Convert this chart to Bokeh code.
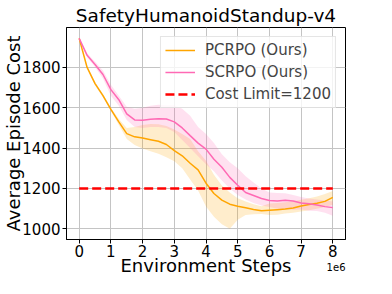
from bokeh.plotting import figure
from bokeh.models import Range1d, Label, Legend, LegendItem, FixedTicker
from bokeh.embed import file_html
from bokeh.resources import INLINE

# ---- data ----
steps = [0.0, 0.25, 0.5, 0.75, 1.0, 1.25, 1.5, 1.75, 2.0, 2.25, 2.5, 2.75,
         3.0, 3.25, 3.5, 3.75, 4.0, 4.25, 4.5, 4.75, 5.0, 5.25, 5.5, 5.75,
         6.0, 6.25, 6.5, 6.75, 7.0, 7.25, 7.5, 7.75, 8.0]  # x 1e6

pcrpo_mean = [1944, 1800, 1720, 1660, 1592, 1530, 1472, 1456, 1450, 1442, 1434, 1418,
              1388, 1362, 1325, 1292, 1226, 1175, 1142, 1122, 1112, 1104, 1096, 1089,
              1092, 1095, 1098, 1103, 1113, 1120, 1127, 1136, 1156]
pcrpo_upper = [1944, 1805, 1728, 1668, 1600, 1545, 1500, 1505, 1515, 1520, 1518, 1510,
               1492, 1470, 1445, 1385, 1338, 1268, 1215, 1180, 1152, 1135, 1122, 1112,
               1125, 1128, 1132, 1138, 1144, 1152, 1160, 1172, 1188]
pcrpo_lower = [1944, 1795, 1712, 1652, 1584, 1515, 1445, 1415, 1398, 1385, 1372, 1355,
               1335, 1300, 1245, 1190, 1110, 1060, 1022, 1000, 1045, 1068, 1072, 1074,
               1068, 1070, 1076, 1080, 1086, 1092, 1100, 1108, 1119]

scrpo_mean = [1944, 1860, 1815, 1765, 1690, 1640, 1570, 1540, 1538, 1543, 1546, 1544,
              1530, 1500, 1462, 1425, 1395, 1345, 1305, 1255, 1216, 1180, 1165, 1150,
              1140, 1138, 1142, 1138, 1128, 1124, 1118, 1110, 1105]
scrpo_upper = [1944, 1870, 1828, 1785, 1714, 1660, 1605, 1595, 1600, 1610, 1615, 1612,
               1612, 1595, 1560, 1505, 1470, 1425, 1370, 1330, 1300, 1260, 1230, 1200,
               1180, 1178, 1176, 1168, 1158, 1150, 1145, 1140, 1135]
scrpo_lower = [1944, 1850, 1802, 1745, 1660, 1610, 1540, 1505, 1500, 1505, 1505, 1500,
               1480, 1440, 1400, 1360, 1320, 1285, 1240, 1200, 1168, 1145, 1128, 1115,
               1108, 1100, 1098, 1095, 1096, 1090, 1088, 1080, 1065]

cost_limit = 1200
x_ticks = [0, 1, 2, 3, 4, 5, 6, 7, 8]
y_ticks = [1000, 1200, 1400, 1600, 1800]

title_text = "SafetyHumanoidStandup-v4"
x_label = "Environment Steps"
y_label = "Average Episode Cost"
names = ["PCRPO (Ours)", "SCRPO (Ours)", "Cost Limit=1200"]
offset_text = "1e6"

FONT = "DejaVu Sans"
ORANGE = "#FFA500"
PINK = "#FF69B4"

W, H = 376, 278

p = figure(width=W, height=H, output_backend="svg", toolbar_location=None,
           x_range=Range1d(-0.4, 8.4), y_range=Range1d(947, 1998),
           min_border_left=60, min_border_right=31, min_border_top=27, min_border_bottom=36,
           title=title_text)
p.background_fill_color = "white"
p.border_fill_color = "white"
p.outline_line_color = "black"
p.outline_line_width = 1

p.title.align = "center"
p.title.text_font = FONT
p.title.text_font_size = "18.5px"
p.title.text_font_style = "normal"
p.title.text_color = "black"
p.title.standoff = 3

# bands
p.varea(x=steps, y1=pcrpo_lower, y2=pcrpo_upper, fill_color=ORANGE, fill_alpha=0.2)
p.varea(x=steps, y1=scrpo_lower, y2=scrpo_upper, fill_color=PINK, fill_alpha=0.2)

r1 = p.line(steps, pcrpo_mean, line_color=ORANGE, line_width=1.5)
r2 = p.line(steps, scrpo_mean, line_color=PINK, line_width=1.5)
r3 = p.line([steps[0], steps[-1]], [cost_limit, cost_limit], line_color="#FF0000",
            line_width=2.5, line_dash="9 4")

# axes
for ax in (p.xaxis[0], p.yaxis[0]):
    ax.axis_line_color = "black"
    ax.major_tick_line_color = "black"
    ax.major_tick_out = 4
    ax.major_tick_in = 0
    ax.minor_tick_line_color = None
    ax.major_label_text_font = FONT
    ax.major_label_text_font_size = "15px"
    ax.major_label_text_color = "black"
    ax.axis_label_text_font = FONT
    ax.axis_label_text_font_size = "18px"
    ax.axis_label_text_font_style = "normal"
    ax.axis_label_text_color = "black"
p.xaxis.axis_label = x_label
p.yaxis.axis_label = y_label
p.xaxis.major_label_standoff = 1
p.xaxis.axis_label_standoff = -5
p.yaxis.major_label_standoff = 2
p.yaxis.axis_label_standoff = -5
p.xaxis.ticker = FixedTicker(ticks=x_ticks)
p.yaxis.ticker = FixedTicker(ticks=y_ticks)
p.xgrid.ticker = FixedTicker(ticks=x_ticks)
p.ygrid.ticker = FixedTicker(ticks=y_ticks)
p.grid.grid_line_color = "#c4c4c4"
p.grid.grid_line_width = 1

legend = Legend(items=[LegendItem(label=names[0], renderers=[r1]),
                       LegendItem(label=names[1], renderers=[r2]),
                       LegendItem(label=names[2], renderers=[r3])],
                location="top_right", margin=9, padding=4, spacing=4,
                glyph_width=30, glyph_height=18, label_height=18, label_standoff=10,
                label_text_font=FONT, label_text_font_size="15px",
                border_line_color="#cccccc", border_line_width=1,
                background_fill_color="white", background_fill_alpha=0.8)
p.add_layout(legend, "center")

# offset text "1e6" placed from the right side panel, below the frame's right corner
p.add_layout(Label(x=0, y=-27, x_units="screen", y_units="screen",
                   text=offset_text, text_align="right", text_baseline="alphabetic",
                   text_font=FONT, text_font_size="10px", text_color="black"), "right")

open("out.html", "w").write(file_html(p, INLINE))
